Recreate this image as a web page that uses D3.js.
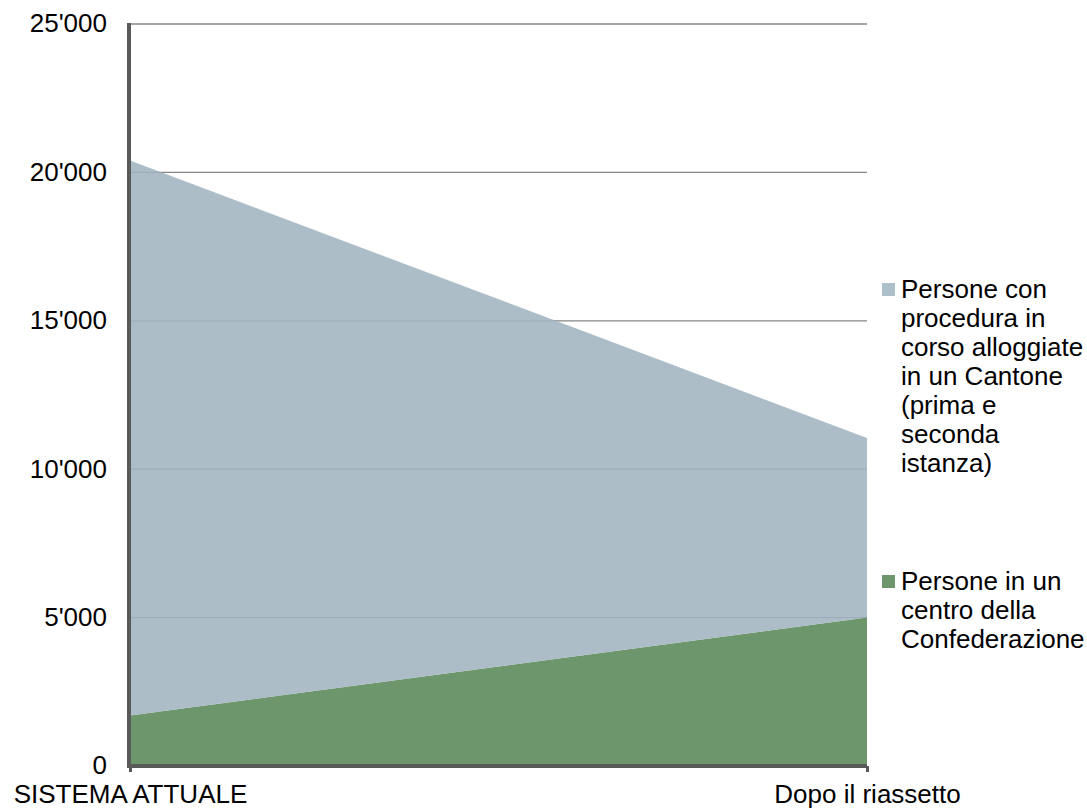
<!DOCTYPE html>
<html>
<head>
<meta charset="utf-8">
<script src="https://cdn.jsdelivr.net/npm/d3@7"></script>
<style>
  html, body { margin: 0; padding: 0; background: #fff; }
  svg { display: block; font-family: "Liberation Sans", Arial, sans-serif; }
</style>
</head>
<body>
<svg id="chart" width="1087" height="810"></svg>
<script>
// ---- data ----
const categories = ["SISTEMA ATTUALE", "Dopo il riassetto"];
const seriesNames = ["Persone in un centro della Confederazione",
                     "Persone con procedura in corso alloggiate in un Cantone (prima e seconda istanza)"];
const confederazione = [1700, 5000];
const cantone = [18700, 6050];
const yTicks = [0, 5000, 10000, 15000, 20000, 25000];
const legendLinesCantone = ["Persone con", "procedura in", "corso alloggiate", "in un Cantone", "(prima e", "seconda", "istanza)"];
const legendLinesConf = ["Persone in un", "centro della", "Confederazione"];

// ---- setup ----
const svg = d3.select("#chart");
const pLeft = 130, pRight = 867, pTop = 24, pBottom = 766;
const FS = 26;
const x = d3.scalePoint().domain(categories).range([pLeft, pRight]);
const y = d3.scaleLinear().domain([0, 25000]).range([pBottom, pTop]);
const locale = d3.formatLocale({ decimal: ".", thousands: "'", grouping: [3], currency: ["", ""] });
const fmt = locale.format(",");

const rows = categories.map((c, i) => ({ cat: c, conf: confederazione[i], cant: cantone[i] }));
const stack = d3.stack().keys(["conf", "cant"]);
const stacked = stack(rows);
const colors = { conf: "#6d966d", cant: "#a0b4bf" };

// gridlines
svg.append("g").selectAll("line").data(yTicks.filter(d => d > 0)).join("line")
  .attr("x1", pLeft).attr("x2", pRight)
  .attr("y1", d => y(d)).attr("y2", d => y(d))
  .attr("stroke", "#868686").attr("stroke-width", 1.3);

// areas
const area = d3.area()
  .x(d => x(d.data.cat))
  .y0(d => y(d[0]))
  .y1(d => y(d[1]));
svg.append("g").selectAll("path").data(stacked).join("path")
  .attr("d", area)
  .attr("fill", d => colors[d.key])
  .attr("fill-opacity", d => d.key === "cant" ? 0.88 : 1);

// y axis
const yAxis = svg.append("g").attr("transform", `translate(${pLeft - 1},0)`)
  .call(d3.axisLeft(y).tickValues(yTicks).tickSize(0).tickPadding(22).tickFormat(fmt));
yAxis.select(".domain").attr("stroke", "#595959").attr("stroke-width", 4)
  .attr("d", `M0,${pTop - 1}V${pBottom + 2}`);
yAxis.selectAll("text").attr("font-size", FS).attr("fill", "#000")
  .attr("font-family", "Liberation Sans, Arial, sans-serif").attr("dy", "0.3em");

// x axis
const xAxis = svg.append("g").attr("transform", `translate(0,${pBottom})`)
  .call(d3.axisBottom(x).tickSize(6).tickPadding(13));
xAxis.select(".domain").attr("stroke", "#595959").attr("stroke-width", 4)
  .attr("d", `M${pLeft - 3},0H${pRight}`);
xAxis.selectAll(".tick line").attr("stroke", "#595959").attr("stroke-width", 3);
xAxis.selectAll("text").attr("font-size", FS).attr("fill", "#000")
  .attr("font-family", "Liberation Sans, Arial, sans-serif").attr("dy", "0.71em");

// legend
function legendBlock(lines, color, baseline) {
  const g = svg.append("g");
  g.append("rect").attr("x", 882).attr("y", baseline - 15).attr("width", 13).attr("height", 13)
    .attr("fill", color);
  const t = g.append("text").attr("x", 901).attr("y", baseline).attr("font-size", FS).attr("fill", "#000");
  lines.forEach((l, i) => t.append("tspan").attr("x", 901).attr("dy", i === 0 ? 0 : 29).text(l));
}
legendBlock(legendLinesCantone, "#adbfc9", 298);
legendBlock(legendLinesConf, colors.conf, 590);
</script>
</body>
</html>
